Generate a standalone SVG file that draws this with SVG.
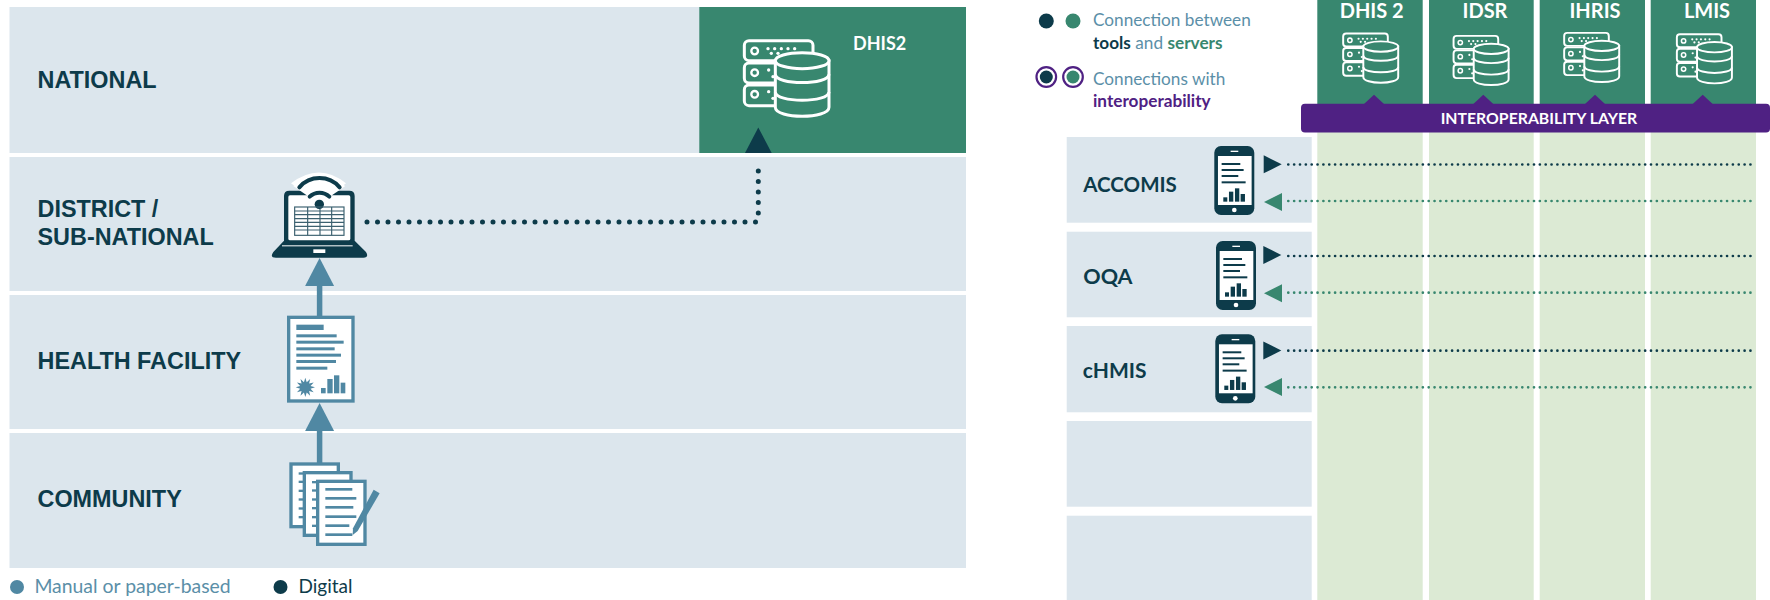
<svg xmlns="http://www.w3.org/2000/svg" xmlns:xlink="http://www.w3.org/1999/xlink" width="1770" height="600" viewBox="0 0 1770 600">
<style>
.band{fill:#dce6ed}
.green{fill:#38876f}
.lgreen{fill:#dcead4}
.dk{fill:#0d3b4a}
.tb{fill:#5088a3}
.lvl{font:bold 23.4px "Liberation Sans",Arial,sans-serif;fill:#0d3b4a}
.lato{font-family:Lato,"Open Sans",sans-serif}
.leg{font-family:Lato,"Open Sans",sans-serif;font-size:17.2px;fill:#5b8fa8}
.b{font-weight:bold}
.col{font:bold 20px Lato,"Open Sans",sans-serif;fill:#fff;text-anchor:middle}
.row{font-family:Lato,"Open Sans",sans-serif;font-weight:bold;fill:#0d3b4a}
.srv{fill:none;stroke:#fff;stroke-width:9}
.cyl{fill:#38876f;stroke:#fff;stroke-width:9}
.wd{fill:#fff}
.dotL{fill:none;stroke:#0d3b4a;stroke-width:5;stroke-linecap:round;stroke-dasharray:0 10.5}
.dotD{fill:none;stroke:#0d3b4a;stroke-width:2.700;stroke-linecap:round;stroke-dasharray:0 5.85}
.dotG{fill:none;stroke:#38876f;stroke-width:2.700;stroke-linecap:round;stroke-dasharray:0 5.85}
.stem{fill:none;stroke:#5088a3;stroke-width:5.5}
.pg{fill:#fff;stroke:#5088a3;stroke-width:10}
</style>
<defs>
<g id="server">
<rect class="srv" x="4" y="4" width="206" height="60" rx="14"/>
<rect class="srv" x="4" y="71" width="110" height="60" rx="14"/>
<rect class="srv" x="4" y="137" width="110" height="62" rx="14"/>
<g fill="none" stroke="#fff" stroke-width="7"><circle cx="35" cy="35" r="10"/><circle cx="35" cy="100" r="10"/><circle cx="35" cy="165" r="10"/></g>
<g class="wd"><circle cx="75" cy="28" r="5"/><circle cx="95" cy="28" r="5"/><circle cx="115" cy="28" r="5"/><circle cx="135" cy="28" r="5"/><circle cx="155" cy="28" r="5"/><circle cx="85" cy="42" r="5"/><circle cx="105" cy="42" r="5"/><circle cx="77" cy="92" r="5"/><circle cx="90" cy="112" r="5"/><circle cx="77" cy="157" r="5"/><circle cx="90" cy="177" r="5"/></g>
<path class="cyl" d="M97,64 V204 C97,240 258,240 258,204 V64 Z"/>
<ellipse class="cyl" cx="177.500" cy="64" rx="80.500" ry="24"/>
<path class="srv" d="M97,105 C97,138 258,138 258,105 M97,158 C97,191 258,191 258,158"/>
</g>
<g id="phone">
<rect class="dk" x="0" y="0" width="120" height="207" rx="20"/>
<rect class="wd" x="11" y="30" width="101" height="147"/>
<rect class="wd" x="49" y="14" width="23" height="4"/>
<circle class="wd" cx="60" cy="192" r="7"/>
<g class="dk"><rect x="22" y="51" width="56" height="6"/><rect x="22" y="69" width="66" height="6"/><rect x="22" y="87" width="50" height="6"/><rect x="22" y="106" width="72" height="6"/>
<rect x="27" y="154" width="12" height="13"/><rect x="44" y="137" width="13" height="30"/><rect x="62" y="127" width="13" height="40"/><rect x="79" y="144" width="13" height="23"/></g>
</g>
<polygon id="toR" class="dk" points="0,0 18,9 0,18"/>
<polygon id="toL" class="green" points="0,9 18,0 18,18"/>
<polygon id="upT" class="tb" points="0,0 14.500,28 -14.500,28"/>
</defs>

<g id="band-national"><rect class="band" x="9.500" y="7" width="956.500" height="146"/><text class="lvl" x="37.500" y="87.800">NATIONAL</text></g>
<g id="band-district"><rect class="band" x="9.500" y="157" width="956.500" height="134"/><text class="lvl" x="37.500" y="216.800">DISTRICT /</text><text class="lvl" x="37.500" y="244.800">SUB-NATIONAL</text></g>
<g id="band-facility"><rect class="band" x="9.500" y="295" width="956.500" height="134"/><text class="lvl" x="37.500" y="369">HEALTH FACILITY</text></g>
<g id="band-community"><rect class="band" x="9.500" y="433" width="956.500" height="135"/><text class="lvl" x="37.500" y="506.500">COMMUNITY</text></g>

<g id="node-dhis2">
<rect class="green" x="699.300" y="7" width="266.700" height="146"/>
<use xlink:href="#server" href="#server" transform="translate(743,39.300) scale(.3333)"/>
<text x="853" y="50" font-family="Lato,'Open Sans',sans-serif" font-weight="bold" font-size="18" fill="#fff">DHIS2</text>
</g>

<g id="node-laptop" transform="translate(260,160) scale(.3333)">
<path class="wd" d="M93,70 Q178,5 258,70 L178,135 Z"/>
<path class="dk" d="M72,242 V108 Q72,92 88,92 H268 Q284,92 284,108 V242 L318,276 Q328,293 310,293 H48 Q28,293 40,276 Z"/>
<rect class="wd" x="85" y="106" width="186" height="135" rx="5"/>
<path class="wd" d="M100,78 Q178,22 256,78 L178,132 Z"/>
<g fill="none" stroke="#0d3b4a" stroke-width="12" stroke-linecap="round"><path d="M149,110 A42,42 0 0 1 208,110"/><path d="M118,82 A80,80 0 0 1 239,82"/></g>
<circle class="dk" cx="178" cy="133" r="14"/>
<g fill="none" stroke="#3c6170" stroke-width="3.500"><rect x="104" y="141" width="148" height="85"/><path d="M143,141 V226 M180,147 V226 M215,141 V226 M104,153 H252 M104,164 H252 M104,176 H252 M104,187 H252 M104,199 H252 M104,210 H252"/></g>
<rect class="wd" x="66" y="256" width="212" height="3"/>
<rect class="wd" x="160" y="268" width="36" height="11"/>
</g>

<g id="node-report" transform="translate(270,300) scale(.3333)">
<rect class="pg" x="56" y="52" width="193" height="251"/>
<g class="tb"><rect x="79" y="74" width="82" height="16"/><rect x="79" y="103" width="121" height="9"/><rect x="79" y="122" width="142" height="9"/><rect x="79" y="142" width="115" height="9"/><rect x="79" y="161" width="134" height="9"/><rect x="79" y="180" width="119" height="9"/><rect x="79" y="200" width="93" height="9"/>
<polygon transform="translate(106,262)" points="29,0 15.500,4.200 25.100,14.500 11.300,11.300 14.500,25.100 4.200,15.500 0,29 -4.200,15.500 -14.500,25.100 -11.300,11.300 -25.100,14.500 -15.500,4.200 -29,0 -15.500,-4.200 -25.100,-14.500 -11.300,-11.300 -14.500,-25.100 -4.200,-15.500 0,-29 4.200,-15.500 14.500,-25.100 11.300,-11.300 25.100,-14.500 15.500,-4.200"/>
<rect x="153" y="264" width="14" height="16"/><rect x="172" y="237" width="16" height="43"/><rect x="192" y="226" width="16" height="54"/><rect x="212" y="248" width="14" height="32"/></g>
</g>

<g id="node-papers" transform="translate(270,440) scale(.3333)">
<rect class="pg" x="63" y="72" width="142" height="188"/>
<g class="tb"><rect x="86" y="97" width="14" height="7"/><rect x="86" y="122" width="14" height="7"/><rect x="86" y="149" width="14" height="7"/><rect x="86" y="175" width="14" height="7"/><rect x="86" y="202" width="14" height="7"/><rect x="86" y="228" width="14" height="7"/></g>
<rect class="pg" x="103" y="98" width="140" height="188"/>
<g class="tb"><rect x="126" y="123" width="14" height="7"/><rect x="126" y="148" width="14" height="7"/><rect x="126" y="175" width="14" height="7"/><rect x="126" y="201" width="14" height="7"/><rect x="126" y="228" width="14" height="7"/><rect x="126" y="254" width="14" height="7"/></g>
<rect class="pg" x="143" y="124" width="142" height="189"/>
<g class="tb"><rect x="166" y="144" width="81" height="8"/><rect x="166" y="171" width="93" height="8"/><rect x="166" y="198" width="84" height="8"/><rect x="166" y="226" width="93" height="8"/><rect x="166" y="253" width="72" height="8"/><rect x="166" y="280" width="81" height="8"/>
<polygon points="311,149 329,160 263,273 248,285 249,265"/></g>
</g>

<g id="connectors">
<path class="dotL" d="M367,222 H756"/>
<path class="dotL" d="M758.300,213 V161"/>
<polygon class="dk" points="758.300,127.500 771.700,153 745,153"/>
<path class="stem" d="M319.600,284 V316"/>
<use xlink:href="#upT" href="#upT" x="319.600" y="258"/>
<path class="stem" d="M319.600,429 V463"/>
<use xlink:href="#upT" href="#upT" x="319.600" y="403"/>
</g>

<g id="legend-left">
<circle class="tb" cx="17" cy="587" r="7"/>
<text class="lato" x="34.400" y="592.700" font-size="19.400" fill="#5b8fa8">Manual or paper-based</text>
<circle class="dk" cx="280.500" cy="587" r="7"/>
<text class="lato" x="298.500" y="592.700" font-size="19" fill="#0d3b4a">Digital</text>
</g>

<g id="legend-right">
<circle class="dk" cx="1046.300" cy="21" r="7.500"/><circle class="green" cx="1073" cy="21" r="7.500"/>
<circle class="dk" cx="1046.300" cy="77" r="6.500"/><circle class="green" cx="1073" cy="77" r="6.500"/>
<g fill="none" stroke="#4f2183" stroke-width="2.200"><circle cx="1046.300" cy="77" r="9.800"/><circle cx="1073" cy="77" r="9.800"/></g>
<text class="leg" x="1093" y="26">Connection between</text>
<text class="leg" x="1093" y="48.500"><tspan class="b" fill="#0d3b4a">tools</tspan> and <tspan class="b" fill="#38876f">servers</tspan></text>
<text class="leg" x="1093" y="85">Connections with</text>
<text class="leg b" x="1093" y="107.400" style="fill:#4f2183">interoperability</text>
</g>

<g id="col-dhis2"><rect class="green" x="1317.300" y="0" width="105.400" height="104"/><rect class="lgreen" x="1317.300" y="132" width="105.400" height="468"/><text class="col" x="1371.700" y="18">DHIS 2</text><use xlink:href="#server" href="#server" transform="translate(1342.300,32.700) scale(.2167)"/></g>
<g id="col-idsr"><rect class="green" x="1429" y="0" width="104.700" height="104"/><rect class="lgreen" x="1429" y="132" width="104.700" height="468"/><text class="col" x="1485" y="18">IDSR</text><use xlink:href="#server" href="#server" transform="translate(1452.700,35) scale(.2167)"/></g>
<g id="col-ihris"><rect class="green" x="1539.700" y="0" width="105.300" height="104"/><rect class="lgreen" x="1539.700" y="132" width="105.300" height="468"/><text class="col" x="1595" y="18">IHRIS</text><use xlink:href="#server" href="#server" transform="translate(1563.300,32) scale(.2167)"/></g>
<g id="col-lmis"><rect class="green" x="1650.700" y="0" width="105.300" height="104"/><rect class="lgreen" x="1650.700" y="132" width="105.300" height="468"/><text class="col" x="1707" y="18">LMIS</text><use xlink:href="#server" href="#server" transform="translate(1676,33.300) scale(.2167)"/></g>

<g id="interop-layer">
<rect x="1301" y="103.700" width="469" height="28.800" rx="4" fill="#4f2183"/>
<g fill="#4f2183"><polygon points="1374,94.700 1384,104 1364,104"/><polygon points="1483.300,94.700 1493.300,104 1473.300,104"/><polygon points="1595,94.700 1605,104 1585,104"/><polygon points="1702.700,94.700 1712.700,104 1692.700,104"/></g>
<text x="1440.700" y="124.300" font-family="Lato,'Open Sans',sans-serif" font-weight="bold" font-size="15.800" fill="#fff">INTEROPERABILITY LAYER</text>
</g>

<g id="row-accomis"><rect class="band" x="1066.700" y="137" width="245" height="85.700"/><text class="row" x="1083.300" y="191.500" font-size="20.500">ACCOMIS</text><use xlink:href="#phone" href="#phone" transform="translate(1214.300,146) scale(.3333)"/></g>
<g id="row-oqa"><rect class="band" x="1066.700" y="231.700" width="245" height="85.600"/><text class="row" x="1083.300" y="284" font-size="21.500">OQA</text><use xlink:href="#phone" href="#phone" transform="translate(1216,241) scale(.3333)"/></g>
<g id="row-chmis"><rect class="band" x="1066.700" y="326" width="245" height="86.300"/><text class="row" x="1082.700" y="378" font-size="21">cHMIS</text><use xlink:href="#phone" href="#phone" transform="translate(1215.300,334.300) scale(.3333)"/></g>
<g id="row-empty-1"><rect class="band" x="1066.700" y="421" width="245" height="85.700"/></g>
<g id="row-empty-2"><rect class="band" x="1066.700" y="515.700" width="245" height="84.300"/></g>

<g id="connectors-right">
<use xlink:href="#toR" href="#toR" x="1263.700" y="155.300"/><path class="dotD" d="M1288.300,164.500 H1751.700"/>
<use xlink:href="#toL" href="#toL" x="1264" y="193"/><path class="dotG" d="M1288.300,201 H1751.700"/>
<use xlink:href="#toR" href="#toR" x="1263.300" y="246"/><path class="dotD" d="M1288.300,256 H1751.700"/>
<use xlink:href="#toL" href="#toL" x="1264" y="284.300"/><path class="dotG" d="M1288.300,292.700 H1751.700"/>
<use xlink:href="#toR" href="#toR" x="1263.300" y="341.500"/><path class="dotD" d="M1288.300,350.700 H1751.700"/>
<use xlink:href="#toL" href="#toL" x="1264" y="378"/><path class="dotG" d="M1288.300,387.300 H1751.700"/>
</g>
</svg>
